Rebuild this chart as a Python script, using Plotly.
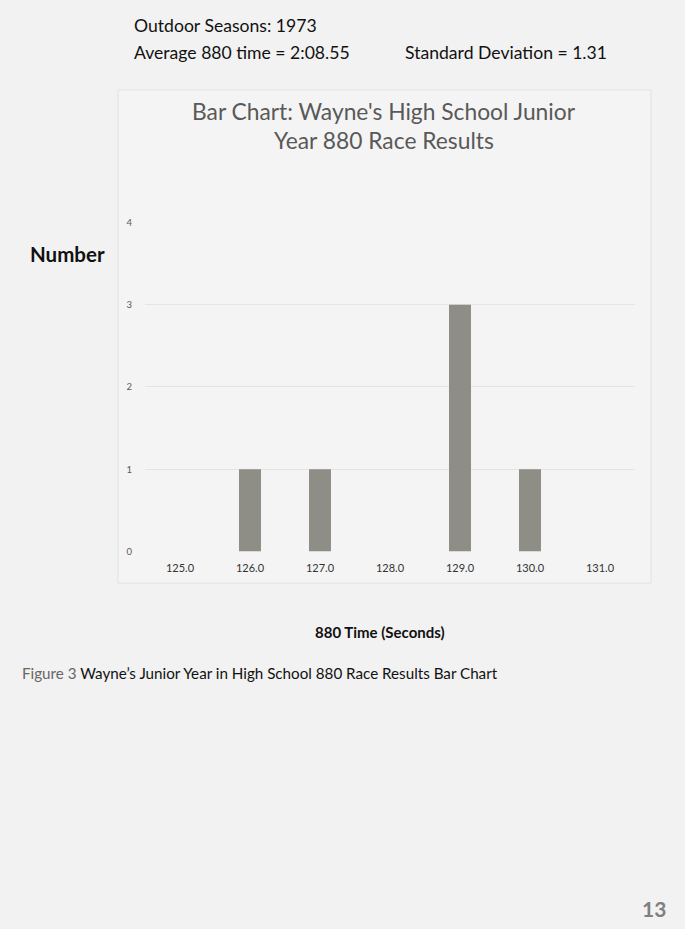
import plotly.graph_objects as go

categories = ["125.0", "126.0", "127.0", "128.0", "129.0", "130.0", "131.0"]
counts = [0, 1, 1, 0, 3, 1, 0]
y_ticks = [0, 1, 2, 3, 4]

W, H = 685, 929
FONT = "Lato, 'Open Sans', sans-serif"

def px(x):
    return x / W

def py(y):
    return 1 - y / H

fig = go.Figure(go.Bar(
    x=categories, y=counts,
    marker=dict(color="#8e8d86", line=dict(width=0)),
))

fig.update_layout(
    width=W, height=H,
    margin=dict(l=0, r=0, t=0, b=0),
    paper_bgcolor="#f2f2f2",
    plot_bgcolor="rgba(0,0,0,0)",
    bargap=0.686,
    showlegend=False,
    font=dict(family=FONT, color="#595959"),
    xaxis=dict(
        domain=[px(145), px(635)],
        type="category",
        range=[-0.5, 6.5],
        showgrid=False, zeroline=False, showline=False,
        ticks="", tickfont=dict(size=11, color="#333333", family=FONT),
        ticklabelstandoff=9,
    ),
    yaxis=dict(
        domain=[py(552), py(219)],
        range=[0, 4],
        tickvals=y_ticks,
        showgrid=True, gridcolor="#e4e4e4", gridwidth=1,
        zeroline=False, showline=False,
        ticks="", tickfont=dict(size=9.5, color="#595959", family=FONT),
        ticklabelstandoff=12,
    ),
    shapes=[dict(
        type="rect", xref="paper", yref="paper",
        x0=px(118), x1=px(651), y0=py(584), y1=py(85),
        line=dict(color="#e2e2e2", width=1), fillcolor="#f4f4f4",
        layer="below",
    )],
)

def ann(text, x, y, size, color="#000000", xanchor="left", bold=False):
    if bold:
        text = "<b>" + text + "</b>"
    fig.add_annotation(
        text=text, x=px(x), y=py(y), xref="paper", yref="paper",
        xanchor=xanchor, yanchor="middle", showarrow=False,
        font=dict(size=size, color=color, family=FONT),
    )

ann("Bar Chart: Wayne's High School Junior", 384, 106, 22.8, "#595959", "center")
ann("Year 880 Race Results", 384, 136, 22.8, "#595959", "center")
ann("Outdoor Seasons: 1973", 132, 20, 17.6, "#111111")
ann("Average 880 time = 2:08.55", 132, 47, 17.6, "#111111")
ann("Standard Deviation = 1.31", 403, 47, 17.6, "#111111")
ann("Number", 28, 251, 20.5, "#111111", bold=True)
ann("880 Time (Seconds)", 380, 633, 15, "#111111", "center", bold=True)
ann("<span style='color:#666666'>Figure 3</span> Wayne\u2019s Junior Year in High School 880 Race Results Bar Chart",
    20, 675, 15.2, "#111111")
ann("13", 668, 913, 21, "#808080", "right", bold=True)

fig.write_html(
    "out.html",
    config={"displayModeBar": False},
    post_script="document.body.style.margin='0';document.body.style.background='#f2f2f2';",
)
